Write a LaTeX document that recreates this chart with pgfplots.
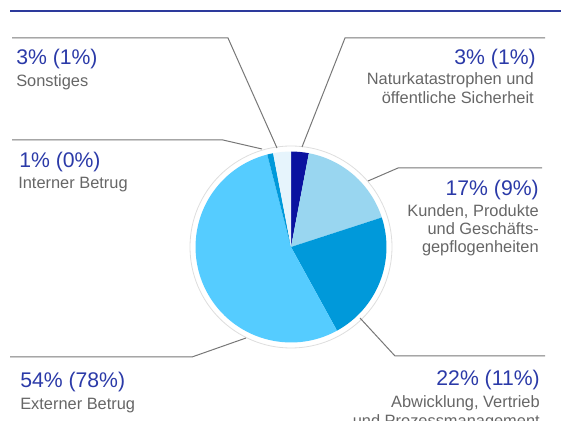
\documentclass[border=0pt]{standalone}
\usepackage{fontspec}
\setmainfont{Liberation Sans}
\usepackage{pgfplots}
\usepackage{pgfplotstable}
\pgfplotsset{compat=1.18}

\definecolor{titleblue}{HTML}{2D3A9C}
\definecolor{pctblue}{HTML}{2B3AA8}
\definecolor{labelgrey}{HTML}{666666}
\definecolor{leader}{HTML}{777777}
\definecolor{slice0}{HTML}{0A12A0}
\definecolor{slice1}{HTML}{99D6F0}
\definecolor{slice2}{HTML}{0099DA}
\definecolor{slice3}{HTML}{55CCFF}
\definecolor{slice4}{HTML}{0099DA}
\definecolor{slice5}{HTML}{E6F4FC}

% share of events per category, clockwise from 12 o'clock
\pgfplotstableread{
pct
3
17
22
54
1
3
}\piedata

\newcommand{\pctfont}{\fontsize{15.9}{18}\selectfont}
\newcommand{\lblfont}{\fontsize{12.3}{14.25}\selectfont}
\tikzset{
  pct/.style={inner sep=0pt, text=pctblue, font=\pctfont},
  lbl/.style={inner sep=0pt, text=labelgrey, font=\lblfont},
  lead/.style={leader, line width=0.75pt},
}

\begin{document}
\begin{tikzpicture}
\begin{axis}[
    x=0.75pt, y=0.75pt,
    xmin=0, xmax=561, ymin=0, ymax=421,
    hide axis, clip=false,
]
% title (cut off at the top) and rule
\node[anchor=base west, inner sep=0pt, text=titleblue, font=\fontsize{14.8}{18}\selectfont]
    at (axis cs:10,425) {Verteilung nach Anzahl der Fälle (Anteil an der Verlustsumme)};
\draw[titleblue, line width=1.5pt] (axis cs:10,409.5) -- (axis cs:561,409.5);

% pie
\draw[draw=black!13, fill=white, line width=0.6pt] (axis cs:291,174) circle[radius=75.75pt];
\xdef\cum{0}
\pgfplotstableforeachcolumnelement{pct}\of\piedata\as\v{%
  \pgfmathsetmacro\a{90-3.6*\cum}%
  \pgfmathsetmacro\b{90-3.6*(\cum+\v)}%
  \edef\tmp{\noexpand\fill[slice\pgfplotstablerow] (axis cs:291,174) -- ++(\a:71.6pt)
     arc[start angle=\a, end angle=\b, radius=71.6pt] -- cycle;}%
  \tmp
  \pgfmathsetmacro\c{\cum+\v}%
  \xdef\cum{\c}%
}

% leader lines
\draw[lead] (axis cs:12,383) -- (axis cs:228,383) -- (axis cs:277,273);
\draw[lead] (axis cs:12,281) -- (axis cs:223,281) -- (axis cs:262,272);
\draw[lead] (axis cs:545,383) -- (axis cs:345,383) -- (axis cs:302,274);
\draw[lead] (axis cs:542,253) -- (axis cs:398,253) -- (axis cs:368,240);
\draw[lead] (axis cs:10,64) -- (axis cs:192,64) -- (axis cs:246,83);
\draw[lead] (axis cs:545,65) -- (axis cs:395,65) -- (axis cs:360,103);

% left labels
\node[pct, anchor=base west] at (axis cs:16,356) {3\% (1\%)};
\node[lbl, anchor=base west] at (axis cs:16,334) {Sonstiges};
\node[pct, anchor=base west] at (axis cs:19,253) {1\% (0\%)};
\node[lbl, anchor=base west] at (axis cs:18,232) {Interner Betrug};
\node[pct, anchor=base west] at (axis cs:20,33) {54\% (78\%)};
\node[lbl, anchor=base west] at (axis cs:20,11) {Externer Betrug};

% right labels
\node[pct, anchor=base east] at (axis cs:536,356) {3\% (1\%)};
\node[lbl, anchor=base east] at (axis cs:534,336) {Naturkatastrophen und};
\node[lbl, anchor=base east] at (axis cs:534,317) {öffentliche Sicherheit};
\node[pct, anchor=base east] at (axis cs:539,225) {17\% (9\%)};
\node[lbl, anchor=base east] at (axis cs:539,204) {Kunden, Produkte};
\node[lbl, anchor=base east] at (axis cs:539,186) {und Geschäfts-};
\node[lbl, anchor=base east] at (axis cs:539,168) {gepflogenheiten};
\node[pct, anchor=base east] at (axis cs:540,35) {22\% (11\%)};
\node[lbl, anchor=base east] at (axis cs:540,13) {Abwicklung, Vertrieb};
\node[lbl, anchor=base east] at (axis cs:540,-6) {und Prozessmanagement};
\end{axis}
\pgfresetboundingbox
\path (0,0) rectangle (420.75pt,315.75pt);
\end{tikzpicture}
\end{document}
